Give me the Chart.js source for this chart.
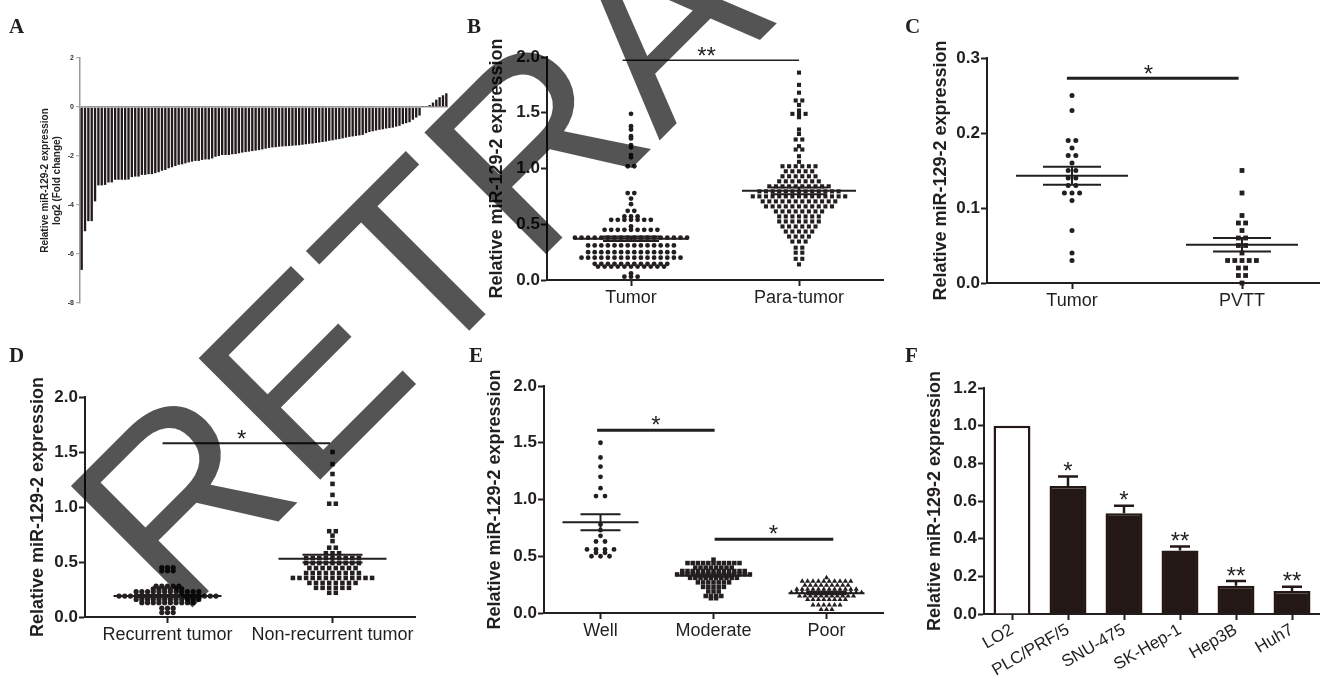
<!DOCTYPE html>
<html>
<head>
<meta charset="utf-8">
<script src="https://cdn.jsdelivr.net/npm/chart.js@4.4.1/dist/chart.umd.min.js"></script>
<style>
  html, body { margin: 0; padding: 0; background: #fff; }
  #page { position: relative; width: 1320px; height: 679px; overflow: hidden; background: #fff; }
  canvas { position: absolute; left: 0; top: 0; }
  svg { position: absolute; left: 0; top: 0; pointer-events: none; }
  .tag { font: bold 21px "Liberation Serif", "Times New Roman", serif; fill: #231f20; }
  .mark { font: 250px "Liberation Sans", Arial, sans-serif; fill: #000; fill-opacity: 0.67; }
</style>
</head>
<body>
<div id="page">
  <canvas id="cA" width="1340" height="679"></canvas>
  <canvas id="cB" width="1340" height="679"></canvas>
  <canvas id="cC" width="1340" height="679"></canvas>
  <canvas id="cD" width="1340" height="679"></canvas>
  <canvas id="cE" width="1340" height="679"></canvas>
  <canvas id="cF" width="1340" height="679"></canvas>
  <svg width="1320" height="679">
    <text class="tag" x="9" y="33">A</text>
    <text class="tag" x="467" y="33">B</text>
    <text class="tag" x="905" y="33">C</text>
    <text class="tag" x="9" y="362">D</text>
    <text class="tag" x="469" y="362">E</text>
    <text class="tag" x="905" y="362">F</text>
    <text class="mark" transform="translate(178,622) rotate(-45)">RETRACTED</text>
  </svg>
</div>
<script>
// ---- data ----
// A: log2 fold change per patient, sorted
const aFold = [
  -6.65, -5.07, -4.66, -4.66, -3.85, -3.20, -3.20, -3.18, -3.08, -3.08,
  -2.97, -2.97, -2.97, -2.97, -2.96, -2.86, -2.84, -2.84, -2.77, -2.77,
  -2.74, -2.74, -2.70, -2.66, -2.60, -2.57, -2.50, -2.46, -2.41, -2.36,
  -2.34, -2.30, -2.26, -2.23, -2.20, -2.20, -2.16, -2.14, -2.14, -2.10,
  -2.03, -2.00, -1.96, -1.96, -1.96, -1.93, -1.92, -1.89, -1.86, -1.84,
  -1.82, -1.80, -1.78, -1.76, -1.73, -1.70, -1.67, -1.65, -1.64, -1.62,
  -1.61, -1.60, -1.59, -1.58, -1.57, -1.56, -1.54, -1.52, -1.50, -1.49,
  -1.47, -1.45, -1.43, -1.41, -1.38, -1.36, -1.33, -1.31, -1.28, -1.25,
  -1.22, -1.20, -1.18, -1.16, -1.14, -1.07, -1.02, -0.99, -0.96, -0.93,
  -0.91, -0.88, -0.86, -0.84, -0.80, -0.77, -0.70, -0.66, -0.62, -0.52,
  -0.43, -0.35, 0.02, 0.04, 0.08, 0.18, 0.30, 0.40, 0.48, 0.56
];
const aTicks = [-8, -6, -4, -2, 0, 2];

// B: tumor vs para-tumor
const bGroups = ['Tumor', 'Para-tumor'];
const bTumor = [
  1.49, 1.38, 1.35, 1.29, 1.27, 1.21, 1.19, 1.12, 1.10, 1.02, 1.02,
  0.78, 0.78, 0.73, 0.68, 0.62, 0.62, 0.57, 0.57, 0.57,
  0.54, 0.54, 0.54, 0.54, 0.54, 0.54, 0.54, 0.48,
  0.45, 0.45, 0.45, 0.45, 0.45, 0.45, 0.45, 0.45, 0.45,
  0.38, 0.38, 0.38, 0.38, 0.38, 0.38, 0.38, 0.38, 0.38, 0.38, 0.38, 0.38, 0.38, 0.38, 0.38, 0.38, 0.38, 0.38,
  0.31, 0.31, 0.31, 0.31, 0.31, 0.31, 0.31, 0.31, 0.31, 0.31, 0.31, 0.31, 0.31, 0.31,
  0.25, 0.25, 0.25, 0.25, 0.25, 0.25, 0.25, 0.25, 0.25, 0.25, 0.25, 0.25, 0.25, 0.25,
  0.20, 0.20, 0.20, 0.20, 0.20, 0.20, 0.20, 0.20, 0.20, 0.20, 0.20, 0.20, 0.20, 0.20, 0.20, 0.20,
  0.145, 0.145, 0.145, 0.145, 0.145, 0.145, 0.145, 0.145, 0.145, 0.145, 0.145, 0.145,
  0.12, 0.12, 0.12, 0.12, 0.12, 0.12, 0.12, 0.12, 0.12, 0.12, 0.12,
  0.06, 0.03, 0.03, 0.03
];
const bPara = [
  1.86, 1.75, 1.68, 1.61, 1.61, 1.57, 1.52, 1.49, 1.49, 1.49, 1.46, 1.35, 1.31, 1.26, 1.26,
  1.20, 1.17, 1.17, 1.11, 1.06,
  1.02, 1.02, 1.02, 1.02, 1.02, 1.02,
  0.975, 0.975, 0.975, 0.975, 0.975,
  0.93, 0.93, 0.93, 0.93, 0.93, 0.93,
  0.885, 0.885, 0.885, 0.885, 0.885, 0.885, 0.885,
  0.84, 0.84, 0.84, 0.84, 0.84, 0.84, 0.84, 0.84, 0.84, 0.84,
  0.795, 0.795, 0.795, 0.795, 0.795, 0.795, 0.795, 0.795, 0.795, 0.795, 0.795, 0.795, 0.795,
  0.75, 0.75, 0.75, 0.75, 0.75, 0.75, 0.75, 0.75, 0.75, 0.75, 0.75, 0.75, 0.75, 0.75, 0.75,
  0.705, 0.705, 0.705, 0.705, 0.705, 0.705, 0.705, 0.705, 0.705, 0.705, 0.705, 0.705,
  0.66, 0.66, 0.66, 0.66, 0.66, 0.66, 0.66, 0.66, 0.66, 0.66, 0.66,
  0.615, 0.615, 0.615, 0.615, 0.615, 0.615, 0.615, 0.615,
  0.57, 0.57, 0.57, 0.57, 0.57, 0.57, 0.57,
  0.525, 0.525, 0.525, 0.525, 0.525, 0.525, 0.525,
  0.48, 0.48, 0.48, 0.48, 0.48, 0.48,
  0.435, 0.435, 0.435, 0.435, 0.435,
  0.39, 0.39, 0.39, 0.39, 0.345, 0.345, 0.345,
  0.29, 0.29, 0.245, 0.245, 0.19, 0.19, 0.14
];
const bMeans = [0.37, 0.80];
const bSems = [0.02, 0.03];
const bTicks = [0, 0.5, 1.0, 1.5, 2.0];
const bSig = [{ from: 0.95, to: 2.0, y: 1.97, text: '**', at: 1.45 }];

// C: tumor vs PVTT
const cGroups = ['Tumor', 'PVTT'];
const cTumor = [0.25, 0.23, 0.19, 0.19, 0.18, 0.17, 0.17, 0.16, 0.15, 0.15, 0.14, 0.14,
  0.13, 0.13, 0.12, 0.12, 0.12, 0.11, 0.07, 0.04, 0.03];
const cPvtt = [0.15, 0.12, 0.09, 0.08, 0.08, 0.07, 0.06, 0.06, 0.05, 0.05, 0.04,
  0.03, 0.03, 0.03, 0.03, 0.03, 0.02, 0.02, 0.01, 0.01, 0.0];
const cMeans = [0.143, 0.051];
const cSems = [0.012, 0.009];
const cTicks = [0, 0.1, 0.2, 0.3];
const cSig = [{ from: 0.97, to: 1.98, y: 0.273, text: '*', at: 1.45 }];

// D: recurrent vs non-recurrent
const dGroups = ['Recurrent tumor', 'Non-recurrent tumor'];
const dRecur = [
  0.45, 0.45, 0.45, 0.42, 0.42, 0.42,
  0.28, 0.28, 0.28, 0.28, 0.28,
  0.255, 0.255, 0.255, 0.255, 0.255, 0.255,
  0.23, 0.23, 0.23, 0.23, 0.23, 0.23, 0.23, 0.23, 0.23, 0.23, 0.23, 0.23,
  0.19, 0.19, 0.19, 0.19, 0.19, 0.19, 0.19, 0.19, 0.19, 0.19, 0.19, 0.19, 0.19, 0.19, 0.19, 0.19, 0.19, 0.19,
  0.16, 0.16, 0.16, 0.16, 0.16, 0.16, 0.16, 0.16, 0.16, 0.16, 0.16, 0.16,
  0.13, 0.13, 0.13, 0.13, 0.13, 0.13, 0.13, 0.13, 0.13, 0.13,
  0.08, 0.08, 0.08, 0.04, 0.04, 0.04
];
const dNonRecur = [
  1.50, 1.39, 1.30, 1.21, 1.11, 1.03, 1.03, 0.78, 0.78, 0.74, 0.69, 0.63, 0.63,
  0.58, 0.58, 0.58,
  0.535, 0.535, 0.535, 0.535, 0.535, 0.535, 0.535, 0.535, 0.535,
  0.49, 0.49, 0.49, 0.49, 0.49, 0.49, 0.49, 0.49, 0.49,
  0.445, 0.445, 0.445, 0.445, 0.445, 0.445, 0.445, 0.445,
  0.40, 0.40, 0.40, 0.40, 0.40, 0.40, 0.40, 0.40, 0.40,
  0.355, 0.355, 0.355, 0.355, 0.355, 0.355, 0.355, 0.355, 0.355, 0.355, 0.355, 0.355, 0.355,
  0.31, 0.31, 0.31, 0.31, 0.31, 0.31, 0.31, 0.31,
  0.265, 0.265, 0.265, 0.265, 0.265, 0.265,
  0.22, 0.22
];
const dMeans = [0.19, 0.53];
const dSems = [0.01, 0.035];
const dTicks = [0, 0.5, 1.0, 1.5, 2.0];
const dSig = [{ from: 0.97, to: 1.985, y: 1.58, text: '*', at: 1.45 }];

// E: differentiation grade
const eGroups = ['Well', 'Moderate', 'Poor'];
const eWell = [1.50, 1.37, 1.29, 1.20, 1.10, 1.03, 1.03, 0.78, 0.73, 0.68, 0.63, 0.63,
  0.56, 0.56, 0.56, 0.56, 0.53, 0.53, 0.50, 0.50, 0.50];
const eModerate = [
  0.47,
  0.44, 0.44, 0.44, 0.44, 0.44, 0.44, 0.44, 0.44, 0.44, 0.44, 0.44,
  0.40, 0.40, 0.40, 0.40, 0.40, 0.40, 0.40, 0.40,
  0.37, 0.37, 0.37, 0.37, 0.37, 0.37, 0.37, 0.37, 0.37, 0.37, 0.37, 0.37, 0.37,
  0.34, 0.34, 0.34, 0.34, 0.34, 0.34, 0.34, 0.34, 0.34, 0.34, 0.34, 0.34, 0.34, 0.34, 0.34,
  0.31, 0.31, 0.31, 0.31, 0.31, 0.31, 0.31, 0.31, 0.31, 0.31,
  0.27, 0.27, 0.27, 0.27, 0.27, 0.27, 0.27,
  0.23, 0.23, 0.23, 0.23, 0.23,
  0.19, 0.19, 0.19, 0.15, 0.15, 0.15, 0.15, 0.13, 0.13
];
const ePoor = [
  0.31,
  0.28, 0.28, 0.28, 0.28, 0.28, 0.28, 0.28, 0.28, 0.28, 0.28,
  0.245, 0.245, 0.245, 0.245, 0.245, 0.245, 0.245, 0.245, 0.245,
  0.21, 0.21, 0.21, 0.21, 0.21, 0.21, 0.21, 0.21, 0.21, 0.21, 0.21, 0.21,
  0.18, 0.18, 0.18, 0.18, 0.18, 0.18, 0.18, 0.18, 0.18, 0.18, 0.18, 0.18, 0.18, 0.18,
  0.15, 0.15, 0.15, 0.15, 0.15, 0.15, 0.15, 0.15, 0.15, 0.15, 0.15,
  0.12, 0.12, 0.12, 0.12, 0.12, 0.12, 0.12, 0.12,
  0.07, 0.07, 0.07, 0.07, 0.07, 0.07,
  0.03, 0.03, 0.03
];
const eMeans = [0.80, 0.33, 0.175];
const eSems = [0.07, 0.01, 0.01];
const eTicks = [0, 0.5, 1.0, 1.5, 2.0];
const eSig = [
  { from: 0.97, to: 2.01, y: 1.61, text: '*', at: 1.49 },
  { from: 2.01, to: 3.06, y: 0.65, text: '*', at: 2.53 }
];

// F: cell lines
const fLabels = ['LO2', 'PLC/PRF/5', 'SNU-475', 'SK-Hep-1', 'Hep3B', 'Huh7'];
const fValues = [1.0, 0.68, 0.535, 0.337, 0.15, 0.122];
const fErrors = [0, 0.05, 0.04, 0.022, 0.025, 0.023];
const fStars = ['', '*', '*', '**', '**', '**'];
const fTicks = [0, 0.2, 0.4, 0.6, 0.8, 1.0, 1.2];

// ---- drawing ----
const ink = '#231f20';
const fam = '"Liberation Sans", Arial, sans-serif';
const yTitle = 'Relative miR-129-2 expression';
const CW = 1340, CH = 679;

Chart.defaults.font.family = fam;
Chart.defaults.color = ink;
Chart.defaults.animation = false;
Chart.defaults.responsive = false;
Chart.defaults.plugins.legend.display = false;
Chart.defaults.plugins.tooltip.enabled = false;

function frame(area, yW, xH) {
  return { padding: { left: area.l - yW, top: area.t, right: CW - area.r, bottom: CH - area.b - xH } };
}

function star(ctx, text, cx, cy, size) {
  ctx.font = size + 'px ' + fam;
  ctx.textAlign = 'center';
  ctx.textBaseline = 'alphabetic';
  const m = ctx.measureText(text);
  ctx.fillText(text, cx, cy + (m.actualBoundingBoxAscent - m.actualBoundingBoxDescent) / 2);
}

// place equal values side by side, centred on the group
function swarm(values, center, step) {
  const rows = new Map();
  values.forEach(v => {
    const k = v.toFixed(3);
    if (!rows.has(k)) rows.set(k, []);
    rows.get(k).push(v);
  });
  const pts = [];
  rows.forEach(list => list.forEach((v, i) => {
    pts.push({ x: center + (i - (list.length - 1) / 2) * step, y: v });
  }));
  return pts;
}

function axisStyle() {
  return {
    grid: { drawOnChartArea: false, drawTicks: true, tickLength: 6, tickWidth: 2, tickColor: ink },
    border: { color: ink, width: 2 }
  };
}

function dotPanel(id, p) {
  const unit = (p.area.r - p.area.l) / p.groups.length;
  const marks = {
    id: 'marks',
    afterDatasetsDraw(chart) {
      const { ctx, scales: { x, y } } = chart;
      ctx.save();
      ctx.strokeStyle = ink;
      ctx.fillStyle = ink;
      ctx.lineWidth = 2;
      p.means.forEach((m, i) => {
        const cx = x.getPixelForValue(i + 1);
        const ym = y.getPixelForValue(m);
        const yh = y.getPixelForValue(m + p.sems[i]);
        const yl = y.getPixelForValue(m - p.sems[i]);
        ctx.beginPath();
        ctx.moveTo(cx - p.meanHalf, ym); ctx.lineTo(cx + p.meanHalf, ym);
        ctx.moveTo(cx - p.semHalf, yh); ctx.lineTo(cx + p.semHalf, yh);
        ctx.moveTo(cx - p.semHalf, yl); ctx.lineTo(cx + p.semHalf, yl);
        ctx.moveTo(cx, yh); ctx.lineTo(cx, yl);
        ctx.stroke();
      });
      p.sig.forEach(s => {
        const y0 = y.getPixelForValue(s.y);
        ctx.lineWidth = p.sigWidth;
        ctx.beginPath();
        ctx.moveTo(x.getPixelForValue(s.from), y0);
        ctx.lineTo(x.getPixelForValue(s.to), y0);
        ctx.stroke();
        star(ctx, s.text, x.getPixelForValue(s.at), y0 - p.starGap, 24);
      });
      ctx.restore();
    }
  };
  new Chart(document.getElementById(id), {
    type: 'scatter',
    data: {
      datasets: p.series.map((vals, i) => ({
        data: swarm(vals, i + 1, p.pitch[i] / unit),
        pointStyle: p.shapes[i],
        pointRadius: p.radius[i],
        backgroundColor: ink,
        borderWidth: 0,
        clip: false
      }))
    },
    options: {
      layout: frame(p.area, p.yW, 40),
      scales: {
        x: Object.assign({
          type: 'linear', min: 0.5, max: p.groups.length + 0.5,
          afterBuildTicks: s => { s.ticks = p.groups.map((g, i) => ({ value: i + 1 })); },
          afterFit: s => { s.height = 40; },
          ticks: { callback: v => p.groups[v - 1], font: { size: 18 }, padding: 1, maxRotation: 0, autoSkip: false }
        }, axisStyle()),
        y: Object.assign({
          min: 0, max: p.ticks[p.ticks.length - 1],
          afterBuildTicks: s => { s.ticks = p.ticks.map(v => ({ value: v })); },
          afterFit: s => { s.width = p.yW; },
          ticks: { callback: v => v.toFixed(1), font: { size: 17, weight: 'bold' }, padding: 1 },
          title: { display: true, text: yTitle, font: { size: 18, weight: 'bold' }, padding: 0 }
        }, axisStyle())
      }
    },
    plugins: [marks]
  });
}

// A
new Chart(document.getElementById('cA'), {
  type: 'bar',
  data: {
    labels: aFold.map((v, i) => i + 1),
    datasets: [{ data: aFold, backgroundColor: '#221a1b', categoryPercentage: 1, barPercentage: 0.7 }]
  },
  options: {
    layout: frame({ l: 80, t: 58, r: 448, b: 303 }, 41, 0),
    scales: {
      x: { display: false },
      y: {
        min: -8, max: 2,
        afterBuildTicks: s => { s.ticks = aTicks.map(v => ({ value: v })); },
        afterFit: s => { s.width = 41; },
        ticks: { font: { size: 7, weight: 'bold' }, color: '#333', padding: 2 },
        grid: {
          color: c => (c.tick && c.tick.value === 0 ? '#9a9a9a' : 'rgba(0,0,0,0)'),
          lineWidth: 1.5, drawTicks: true, tickLength: 4, tickColor: '#9a9a9a', tickWidth: 1
        },
        border: { color: '#9a9a9a', width: 1.5 },
        title: {
          display: true, text: [yTitle, 'log2 (Fold change)'],
          font: { size: 10, weight: 'bold', lineHeight: 1.2 }, padding: 0
        }
      }
    }
  }
});

dotPanel('cB', {
  area: { l: 547, t: 57, r: 883, b: 280 }, yW: 61, groups: bGroups, series: [bTumor, bPara],
  shapes: ['circle', 'rect'], radius: [2.4, 2.9], pitch: [6.6, 6.6], ticks: bTicks,
  means: bMeans, sems: bSems, meanHalf: 57, semHalf: 28, sig: bSig, sigWidth: 1.5, starGap: 9
});
dotPanel('cC', {
  area: { l: 987, t: 58, r: 1327, b: 283 }, yW: 57, groups: cGroups, series: [cTumor, cPvtt],
  shapes: ['circle', 'rect'], radius: [2.5, 3.4], pitch: [7.6, 7.2], ticks: cTicks,
  means: cMeans, sems: cSems, meanHalf: 56, semHalf: 29, sig: cSig, sigWidth: 3, starGap: 9
});
dotPanel('cD', {
  area: { l: 85, t: 397, r: 415, b: 617 }, yW: 58, groups: dGroups, series: [dRecur, dNonRecur],
  shapes: ['circle', 'rect'], radius: [2.6, 3.2], pitch: [5.7, 6.6], ticks: dTicks,
  means: dMeans, sems: dSems, meanHalf: 54, semHalf: 30, sig: dSig, sigWidth: 2, starGap: 9
});
dotPanel('cE', {
  area: { l: 544, t: 386, r: 883, b: 613 }, yW: 60, groups: eGroups, series: [eWell, eModerate, ePoor],
  shapes: ['circle', 'rect', 'triangle'], radius: [2.4, 3.2, 3.0], pitch: [9, 5.2, 5.4], ticks: eTicks,
  means: eMeans, sems: eSems, meanHalf: 38, semHalf: 20, sig: eSig, sigWidth: 3, starGap: 10
});

// F
const fMarks = {
  id: 'fMarks',
  afterDatasetsDraw(chart) {
    const { ctx, scales: { x, y } } = chart;
    ctx.save();
    ctx.strokeStyle = '#231815';
    ctx.fillStyle = ink;
    ctx.lineWidth = 2.5;
    fValues.forEach((v, i) => {
      const cx = x.getPixelForValue(i);
      const top = y.getPixelForValue(v + fErrors[i]);
      if (fErrors[i] > 0) {
        ctx.beginPath();
        ctx.moveTo(cx, y.getPixelForValue(v));
        ctx.lineTo(cx, top);
        ctx.moveTo(cx - 10, top);
        ctx.lineTo(cx + 10, top);
        ctx.stroke();
      }
      if (fStars[i]) star(ctx, fStars[i], cx, top - 10, 24);
    });
    ctx.restore();
  }
};
new Chart(document.getElementById('cF'), {
  type: 'bar',
  data: {
    labels: fLabels,
    datasets: [{
      data: fValues,
      backgroundColor: fLabels.map((l, i) => (i === 0 ? '#ffffff' : '#231815')),
      borderColor: '#231815', borderWidth: 2.5,
      categoryPercentage: 1, barPercentage: 0.66
    }]
  },
  options: {
    layout: frame({ l: 984, t: 388, r: 1320, b: 614 }, 60, 80),
    scales: {
      x: Object.assign({
        afterFit: s => { s.height = 80; },
        ticks: { font: { size: 17 }, minRotation: 30, maxRotation: 30, autoSkip: false, padding: 0 }
      }, axisStyle(), {
        grid: { offset: false, drawOnChartArea: false, drawTicks: true, tickLength: 6, tickWidth: 2, tickColor: ink }
      }),
      y: Object.assign({
        min: 0, max: 1.2,
        afterBuildTicks: s => { s.ticks = fTicks.map(v => ({ value: v })); },
        afterFit: s => { s.width = 60; },
        ticks: { callback: v => v.toFixed(1), font: { size: 17, weight: 'bold' }, padding: 1 },
        title: { display: true, text: yTitle, font: { size: 18, weight: 'bold' }, padding: 0 }
      }, axisStyle())
    }
  },
  plugins: [fMarks]
});
</script>
</body>
</html>
